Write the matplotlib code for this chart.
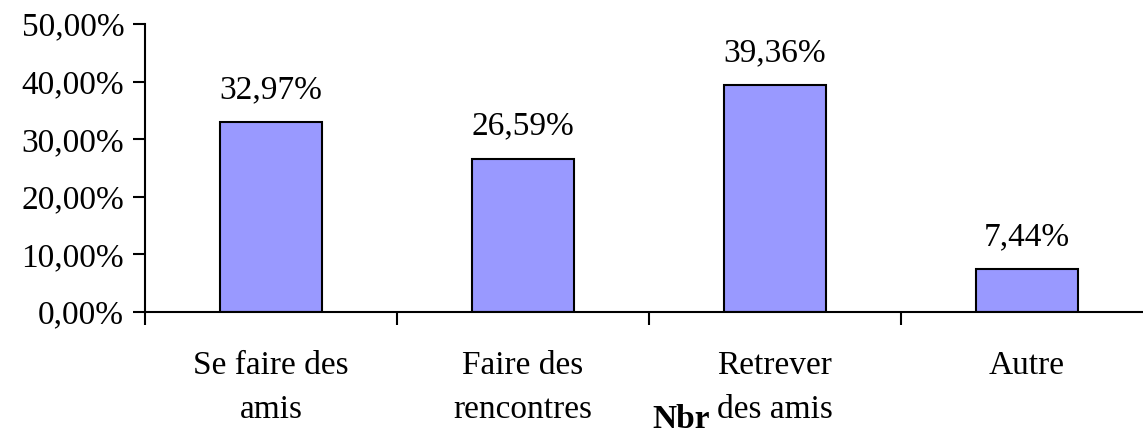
import matplotlib
matplotlib.use("Agg")
import matplotlib.pyplot as plt
import numpy as np

plt.rcParams['font.family'] = ['Liberation Serif', 'DejaVu Serif']

categories = ["Se faire des\namis", "Faire des\nrencontres", "Retrever\ndes amis", "Autre"]
values = [32.97, 26.59, 39.36, 7.44]
value_labels = ["32,97%", "26,59%", "39,36%", "7,44%"]
yticks = [0, 10, 20, 30, 40, 50]
ytick_labels = ["0,00%", "10,00%", "20,00%", "30,00%", "40,00%", "50,00%"]

fig = plt.figure(figsize=(11.43, 4.36), dpi=100)
ax = fig.add_axes([145 / 1143, 124 / 436, 1 - 145 / 1143, 288 / 436])

x = np.arange(len(categories))
ax.bar(x, values, width=0.405, color='#9999FF', edgecolor='black', linewidth=1.5)

for xi, v, lab in zip(x, values, value_labels):
    ax.annotate(lab, (xi, v), xytext=(0, 17.5), textcoords='offset points',
                ha='center', va='baseline', fontsize=24)

ax.set_xlim(-0.5, -0.5 + 998 / 252)
ax.set_ylim(0, 50)
ax.set_yticks(yticks)
ax.set_yticklabels(ytick_labels, fontsize=24)
ax.tick_params(axis='y', direction='out', length=9, width=1.5, pad=6)

ax.set_xticks(x)
ax.set_xticklabels(categories, fontsize=24, linespacing=1.55)
ax.tick_params(axis='x', which='major', length=0, pad=28)
ax.set_xticks(np.arange(-0.5, 3.5, 1), minor=True)
ax.tick_params(axis='x', which='minor', direction='out', length=9, width=1.5)

for s in ['top', 'right']:
    ax.spines[s].set_visible(False)
for s in ['left', 'bottom']:
    ax.spines[s].set_linewidth(1.5)

fig.text(681 / 1143, 1 - 435 / 436, "Nbr", fontsize=24, fontweight='bold',
         ha='center', va='bottom')

fig.savefig("out.png", dpi=100)
